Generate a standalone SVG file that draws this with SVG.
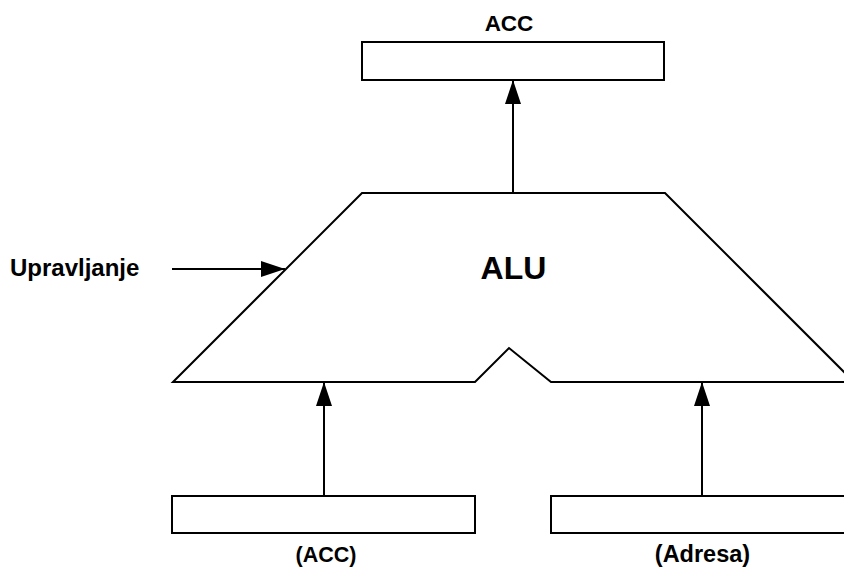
<svg xmlns="http://www.w3.org/2000/svg" width="844" height="567" viewBox="0 0 844 567">
<style>
.box{fill:#fff;stroke:#000;stroke-width:2}
.ln{fill:none;stroke:#000;stroke-width:2}
.t{font-family:"Liberation Sans",Arial,sans-serif;font-weight:bold;fill:#000}
</style>
<defs>
<marker id="ah" viewBox="0 0 24 16" refX="24" refY="8" markerWidth="24" markerHeight="16" markerUnits="userSpaceOnUse" orient="auto">
<path d="M0,0 L24,8 L0,16 Z" fill="#000"/>
</marker>
</defs>
<rect width="844" height="567" fill="#fff"/>
<g id="acc-out">
<rect class="box" x="362" y="42" width="302" height="38"/>
<text class="t" x="509" y="31" font-size="22.5" text-anchor="middle">ACC</text>
</g>
<g id="alu">
<path class="ln" d="M173,382 L362,193 L665,193 L854,382 L551,382 L509,348 L475,382 Z"/>
<text class="t" x="513.5" y="279" font-size="32" text-anchor="middle">ALU</text>
</g>
<g id="acc-in">
<rect class="box" x="172" y="496" width="303" height="37"/>
<text class="t" x="326" y="562" font-size="21.5" text-anchor="middle">(ACC)</text>
</g>
<g id="adresa">
<rect class="box" x="551" y="496" width="310" height="37"/>
<text class="t" x="702.5" y="562" font-size="23.5" text-anchor="middle">(Adresa)</text>
</g>
<g id="upravljanje">
<text class="t" x="10" y="276" font-size="24">Upravljanje</text>
</g>
<g id="connectors">
<line class="ln" x1="513" y1="193" x2="513" y2="80" marker-end="url(#ah)"/>
<line class="ln" x1="172" y1="269" x2="285" y2="269" marker-end="url(#ah)"/>
<line class="ln" x1="324" y1="496" x2="324" y2="382" marker-end="url(#ah)"/>
<line class="ln" x1="702" y1="496" x2="702" y2="382" marker-end="url(#ah)"/>
</g>
</svg>
